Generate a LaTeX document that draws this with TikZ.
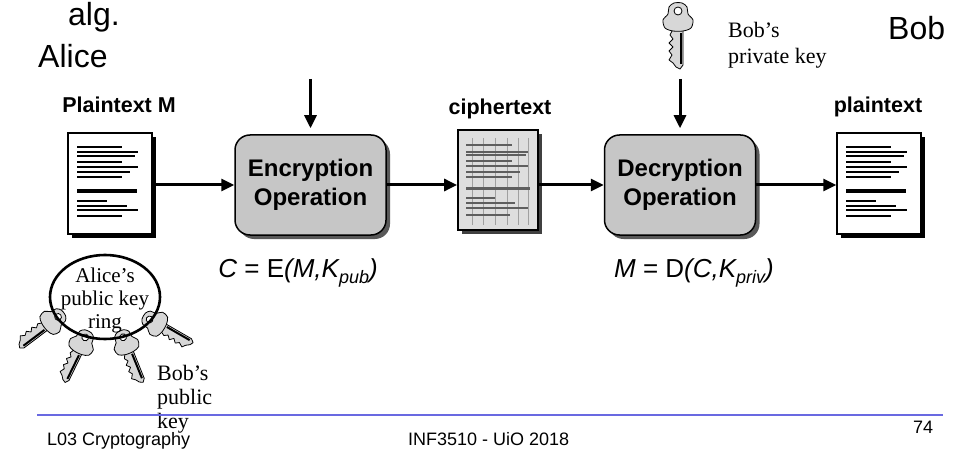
\documentclass[tikz,border=0pt]{standalone}
\usepackage{fontspec}
\setmainfont{Liberation Serif}
\setsansfont{Liberation Sans}
\usetikzlibrary{arrows.meta,shadows,shapes.geometric}

\definecolor{boxgray}{RGB}{198,198,198}
\definecolor{pagegray}{RGB}{222,222,222}
\definecolor{gridgray}{RGB}{160,160,160}
\definecolor{inkgray}{RGB}{95,95,95}
\definecolor{keygray}{RGB}{215,215,215}
\definecolor{rulerblue}{RGB}{105,105,225}

\newcommand{\lowsub}[1]{\raisebox{-6pt}{\fontsize{18}{18}\selectfont #1}}

\tikzset{
  % black text lines on a plain page
  textlines/.pic={
    \foreach \y/\e in {-36/12,-31/28,-27/25,-21/12,-16/28,-11/20,-6/12,17/-3,22/17,26/28,32/12}
      \draw[line width=2pt] (-33,\y) -- (\e,\y);
    \draw[line width=4pt] (-33,8) -- (27,8);
  },
  % scrambled page: grey grid over dark text lines
  cipherlines/.pic={
    \foreach \x in {-26,-15,-3,9,20,30}
      \draw[gridgray,line width=1pt] (\x,-42) -- (\x,45);
    \foreach \y/\e in {-35/14,-28/30,-25/28,-19/14,-14/30,-8/22,-3/14,18/-3,23/17,28/30,35/12}
      \draw[inkgray,line width=1.6pt] (-32,\y) -- (\e,\y);
    \draw[inkgray,line width=3pt] (-32,9) -- (32,9);
  },
  % a key pointing downwards, bow centred on the origin
  key/.pic={
    \draw[line width=0.8pt,fill=keygray,line join=round]
      (5,12) -- (5,48) -- (2,52) -- (-2,50) -- (-5,46) -- (-9,43) -- (-6,38)
      -- (-9,34) -- (-5,30) -- (-9,26) -- (-5,22) -- (-8,18) -- (-5,12) -- cycle;
    \draw[line width=2pt] (2.5,16) -- (2.5,47);
    \draw[line width=0.8pt,fill=keygray] plot[smooth cycle] coordinates
      {(-5,14) (-13,11) (-15,3) (-10,-3) (-9,-10) (-4,-14) (4,-14) (9,-10) (10,-3) (15,3) (13,11) (5,14)};
    \draw[line width=0.8pt,fill=white] (0,-6) circle (4pt);
  },
}

\begin{document}
\begin{tikzpicture}[x=1pt,y=-1pt,
  flow/.style={line width=3pt,-{Triangle[length=13pt,width=12pt]}},
  opbox/.style={draw,line width=1.5pt,fill=boxgray,rounded corners=15pt,
    minimum width=151pt,minimum height=100pt,align=center,
    font=\sffamily\bfseries\fontsize{24}{29}\selectfont,
    drop shadow={shadow xshift=4pt,shadow yshift=-4pt,fill=black!65,opacity=1}},
  page/.style={draw,line width=1.5pt,fill=white,minimum width=84pt,
    minimum height=101pt,inner sep=0pt,
    drop shadow={shadow xshift=4pt,shadow yshift=-4pt,fill=black,opacity=1}},
  cpage/.style={draw,line width=1.8pt,fill=pagegray,minimum width=80pt,
    minimum height=100pt,inner sep=0pt,
    drop shadow={shadow xshift=4pt,shadow yshift=-4pt,fill=black!75,opacity=1}},
  tag/.style={font=\sffamily\bfseries\fontsize{21.5}{25}\selectfont,anchor=base},
  party/.style={font=\sffamily\fontsize{32}{36}\selectfont,anchor=base west,inner sep=0pt},
  formula/.style={font=\sffamily\fontsize{26}{30}\selectfont,anchor=base},
  note/.style={font=\fontsize{22}{26}\selectfont,align=left,anchor=north west,inner sep=0pt},
  foot/.style={font=\sffamily\fontsize{18}{20}\selectfont,anchor=base west,inner sep=0pt},
]
\useasboundingbox (0,0) rectangle (963,449);

% parties
\node[party] (alg) at (68,26) {alg.};
\node[party] (alice) at (38,68) {Alice};
\node[party] (bob) at (888,40) {Bob};

% pages
\node[page] (Ldoc) at (110,183.5) {};
\pic at (Ldoc.center) {textlines};
\node[cpage] (cipher) at (498,180) {};
\pic at (cipher.center) {cipherlines};
\node[page] (Rdoc) at (879,183.5) {};
\pic at (Rdoc.center) {textlines};

\node[tag] (ptlabel) at (119,113) {Plaintext M};
\node[tag] (ctlabel) at (500,115) {ciphertext};
\node[tag] (rtlabel) at (878,113) {plaintext};

% operations
\node[opbox] (enc) at (310.5,185) {Encryption\\Operation};
\node[opbox] (dec) at (680,185) {Decryption\\Operation};

\node[formula] (encf) at (298,277) {\textit{C} = E\textit{(M,K\lowsub{pub})}};
\node[formula] (decf) at (694,277) {\textit{M} = D\textit{(C,K\lowsub{priv})}};

% Bob's private key
\pic at (678,17) {key};
\node[note] (privnote) at (728,22) {Bob’s\\private key};

% data flow
\coordinate (encin) at (310.5,79);
\coordinate (decin) at (680,79);
\draw[flow] (Ldoc.east |- enc.west) -- (enc.west);
\draw[flow] (enc.east) -- (enc.east -| cipher.west);
\draw[flow] (cipher.east |- dec.west) -- (dec.west);
\draw[flow] (dec.east) -- (dec.east -| Rdoc.west);
\draw[flow,shorten >=6pt] (encin) -- (enc.north);
\draw[flow,shorten >=6pt] (decin) -- (dec.north);

% Alice's key ring
\pic[scale=0.85,rotate=-53] at (54,320) {key};
\pic[scale=0.85,rotate=-26] at (83,342) {key};
\pic[scale=0.85,rotate=22] at (125,342) {key};
\pic[scale=0.85,rotate=60] at (154,322) {key};
\node[ellipse,draw,line width=2.6pt,minimum width=110pt,minimum height=84pt,inner sep=0pt] (ring) at (105,297) {};
\node[font=\fontsize{21}{23}\selectfont,align=center,inner sep=0pt] (ringtext) at (105,300) {Alice’s\\public key\\ring};
\node[note,font=\fontsize{22}{24}\selectfont] (pubnote) at (157,365) {Bob’s\\public\\key};

% footer
\coordinate (ruleL) at (37,415);
\coordinate (ruleR) at (943,415);
\draw[rulerblue,line width=1.2pt] (ruleL) -- (ruleR);
\node[foot] (course) at (47,445) {L03 Cryptography};
\node[foot] (inst) at (408,445) {INF3510 - UiO 2018};
\node[foot] (page) at (913,433) {74};
\end{tikzpicture}
\end{document}
